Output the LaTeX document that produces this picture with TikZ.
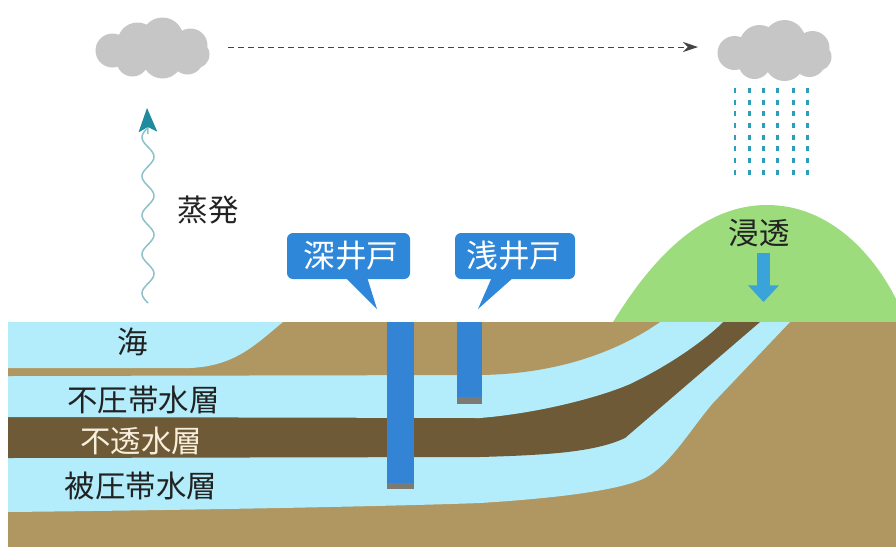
\documentclass[tikz,border=0pt]{standalone}
\usepackage{fontspec}
\newfontfamily\jp{Noto Sans CJK JP}
\usetikzlibrary{arrows.meta}
\definecolor{soil}{HTML}{B09660}
\definecolor{clay}{HTML}{6E5A37}
\definecolor{aqua}{HTML}{B3ECFA}
\definecolor{hill}{HTML}{9CDC7C}
\definecolor{well}{HTML}{3484D6}
\definecolor{wellcap}{HTML}{7C7A72}
\definecolor{bubble}{HTML}{2F87DA}
\definecolor{cloudgray}{HTML}{C6C6C6}
\definecolor{rain}{HTML}{2E9DB8}
\definecolor{vapor}{HTML}{8CC2C8}
\definecolor{vaporhead}{HTML}{1F8C9E}
\definecolor{seep}{HTML}{3AA3DA}
\definecolor{ink}{HTML}{222222}
\definecolor{cream}{HTML}{F7EFDC}
\definecolor{flowgray}{HTML}{444444}

\begin{document}
\begin{tikzpicture}[x=0.03cm,y=-0.03cm,
  tag/.style={font=\jp\fontsize{26}{28}\selectfont, text=ink, inner sep=0pt},
  bubbletext/.style={font=\jp\fontsize{27}{29}\selectfont, text=white, inner sep=0pt},
  bubblebox/.style={fill=bubble, rounded corners=0.18cm},
  raincloud/.pic={
    \fill[cloudgray]
      (-40,2) circle[radius=17]
      (-15,-6) circle[radius=20]
      (10,-10) circle[radius=21]
      (38,-3) circle[radius=17]
      (43,6) circle[radius=14]
      (-20,12) circle[radius=16]
      (10,10) circle[radius=20]
      (35,10) circle[radius=16];
  }
]
\useasboundingbox (0,0) rectangle (896,547);

% hill and ground
\fill[hill] (613,322) .. controls (650,262) and (700,205) .. (767,205)
  .. controls (830,205) and (875,255) .. (898,303) -- (898,322) -- cycle;
\fill[soil] (8,322) rectangle (896,547);

% confined aquifer
\fill[aqua] (8,322) -- (8,512) .. controls (200,510) and (400,506) .. (480,503)
  .. controls (560,498) and (620,490) .. (645,478)
  .. controls (670,465) and (690,430) .. (713,403) -- (790,322) -- cycle;
% impermeable layer
\fill[clay] (8,322) -- (8,458) -- (480,457) .. controls (550,455) and (595,452) .. (625,438)
  -- (760,322) -- cycle;
% unconfined aquifer
\fill[aqua] (8,322) -- (8,417) -- (480,418) .. controls (540,413) and (600,397) .. (630,384)
  .. controls (670,365) and (705,340) .. (723,322) -- cycle;
% surface soil
\fill[soil] (8,322) -- (8,376) -- (480,375) .. controls (560,374) and (620,350) .. (660,322) -- cycle;
% sea
\fill[aqua] (8,322) -- (283,322) .. controls (255,345) and (235,366) .. (190,368) -- (8,368) -- cycle;

% wells
\fill[well] (387,322) rectangle (414,483);
\fill[wellcap] (387,483) rectangle (414,489);
\fill[well] (457,322) rectangle (482,397);
\fill[wellcap] (457,397) rectangle (482,404);

% callouts
\fill[bubblebox] (287,233) rectangle (410,279);
\fill[bubble] (345,277) -- (367,277) -- (377,309) -- cycle;
\node[bubbletext] (deep) at (351,256) {深井戸};
\fill[bubblebox] (455,233) rectangle (575,279);
\fill[bubble] (492,277) -- (514,277) -- (478,309) -- cycle;
\node[bubbletext] (shallow) at (514,256) {浅井戸};

% clouds
\coordinate (cloudL) at (152.5,48.5);
\coordinate (cloudR) at (774.5,51);
\pic at (cloudL) {raincloud};
\pic at (cloudR) {raincloud};

% drift of vapour between the clouds
\coordinate (flowS) at (228,47);
\coordinate (flowE) at (698,47);
\draw[flowgray, line width=0.7pt, dash pattern=on 0.18cm off 0.12cm,
  -{Stealth[length=0.45cm,width=0.3cm]}] (flowS) -- (flowE);

% rain
\foreach \rx in {735,749.3,763.3,777.7,793.3,807.3}
  \draw[rain, line width=0.075cm, dash pattern=on 0.15cm off 0.2cm] (\rx,88) -- (\rx,176);

% evaporation
\draw[vapor, line width=0.045cm] plot[domain=303:127.5, samples=120, smooth]
  ({148 + 6*sin((\x-303)*9.2308)}, \x);
\coordinate (vapS) at (148,134);
\coordinate (vapE) at (147,108);
\draw[vapor, line width=0.045cm,
  -{Stealth[length=0.72cm,width=0.56cm,inset=0.15cm,color=vaporhead]}] (vapS) -- (vapE);
\node[tag] (evap) at (208,210) {蒸発};

% infiltration
\node[tag] (infil) at (759,233) {浸透};
\coordinate (seepS) at (763.5,253);
\coordinate (seepE) at (763.5,302);
\draw[seep, line width=0.39cm, -{Triangle[length=0.5cm,width=0.9cm]}] (seepS) -- (seepE);

% layer names
\node[tag] (sea) at (133,342) {海};
\node[tag] (unconf) at (143.5,400) {不圧帯水層};
\node[tag, text=cream] (imperm) at (141,441) {不透水層};
\node[tag] (conf) at (141,486) {被圧帯水層};
\end{tikzpicture}
\end{document}
